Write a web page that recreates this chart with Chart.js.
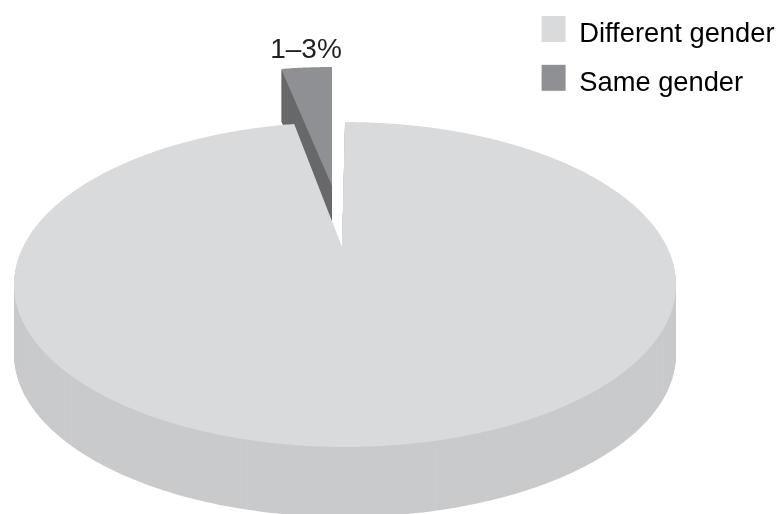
<!DOCTYPE html>
<html><head><meta charset="utf-8">
<style>html,body{margin:0;padding:0;background:#fff}canvas{display:block}</style>
<script src="https://cdn.jsdelivr.net/npm/chart.js@4"></script></head>
<body><canvas id="c" width="779" height="514"></canvas>
<script>
const categories = ["Different gender", "Same gender"];
const shares = [96.9, 3.1];
const sliceLabel = "1\u20133%";
const faceColors = ["#d9dadc", "#8e9093"];
const sideColors = ["#c9cacc", "#68696b"];

// perspective view of the flat pie: maps the library's arc angles onto the page
const view = {x0:345, a:322, y0:247, b:153.8, k:0.2308};
const apexes = [[342,247],[345,241]];
const depth = [70, 52];
const lift = [{dx:0, dy:0}, {dx:-13, dy:-55}];

function project(th){
  const u=Math.cos(th), v=Math.sin(th), w=1-view.k*v;
  return [view.x0+view.a*u/w, view.y0+view.b*v/w];
}
function outline(arc,apex){
  const pts=[apex];
  const n=Math.max(4,Math.ceil((arc.endAngle-arc.startAngle)/0.01));
  for(let i=0;i<=n;i++) pts.push(project(arc.startAngle+(arc.endAngle-arc.startAngle)*i/n));
  return pts;
}
function fillPts(ctx,pts,dx,dy,color){
  ctx.beginPath();
  pts.forEach((p,i)=>i?ctx.lineTo(p[0]+dx,p[1]+dy):ctx.moveTo(p[0]+dx,p[1]+dy));
  ctx.closePath(); ctx.fillStyle=color; ctx.fill();
}
const perspectivePie={
  id:'perspectivePie',
  beforeDatasetsDraw(chart){
    const ctx=chart.ctx, arcs=chart.getDatasetMeta(0).data;
    const big=outline(arcs[0],apexes[0]), small=outline(arcs[1],apexes[1]);
    ctx.save();
    for(let d=depth[0];d>=1;d--) fillPts(ctx,big,0,d,sideColors[0]);
    for(let d=depth[1];d>=1;d--) fillPts(ctx,small,lift[1].dx,lift[1].dy+d,sideColors[1]);
    fillPts(ctx,small,lift[1].dx,lift[1].dy,faceColors[1]);
    fillPts(ctx,big,0,0,faceColors[0]);
    ctx.font='28px "Liberation Sans"';
    ctx.fillStyle='#231f20'; ctx.textAlign='center'; ctx.textBaseline='alphabetic';
    ctx.fillText(sliceLabel,306,58);
    ctx.restore();
    return false;
  },
  afterDraw(chart){
    // legend swatches sit slightly above the middle of their text
    const ctx=chart.ctx;
    chart.legend.legendHitBoxes.forEach((h,i)=>{
      ctx.fillStyle=faceColors[i];
      ctx.fillRect(h.left,h.top-5.25,24,26);
    });
  }
};
new Chart(document.getElementById('c'),{
  type:'pie',
  data:{labels:categories,datasets:[{data:shares,backgroundColor:faceColors,borderWidth:0}]},
  options:{
    responsive:false,animation:false,devicePixelRatio:1,rotation:0,
    layout:{padding:{top:-0.25,right:-5.5}},
    plugins:{tooltip:{enabled:false},
      legend:{position:'right',align:'start',
        labels:{boxWidth:24,boxHeight:26,padding:21.5,color:'#231f20',
          font:{family:'"Liberation Sans"',size:27.3},
          generateLabels(chart){
            return categories.map((t,i)=>({text:t,index:i,fillStyle:'rgba(0,0,0,0)',strokeStyle:'rgba(0,0,0,0)',lineWidth:0,hidden:false}));
          }}}}
  },
  plugins:[perspectivePie]
});
</script></body></html>
